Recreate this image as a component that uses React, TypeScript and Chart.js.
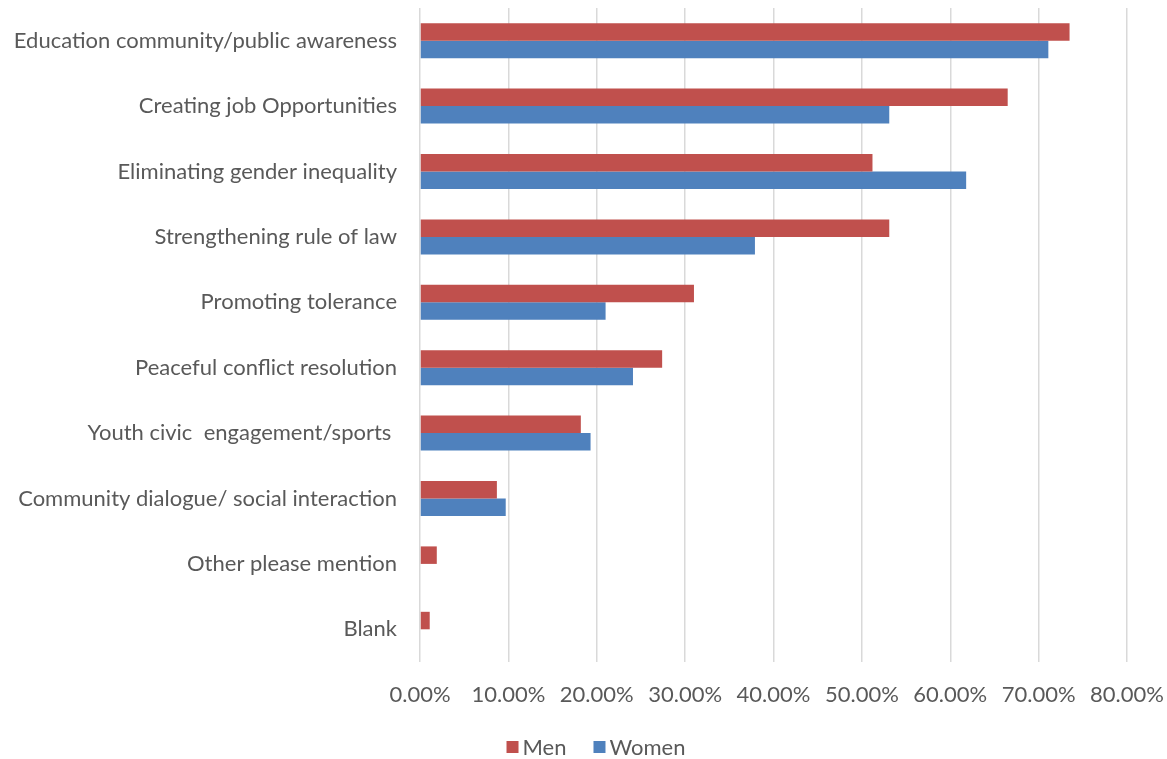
import React, { useEffect, useRef } from "react";
import { Chart, registerables } from "chart.js";

Chart.register(...registerables);

const categories = [
  "Education community/public awareness",
  "Creating job Opportunities",
  "Eliminating gender inequality",
  "Strengthening rule of law",
  "Promoting tolerance",
  "Peaceful conflict resolution",
  "Youth civic  engagement/sports ",
  "Community dialogue/ social interaction",
  "Other please mention",
  "Blank",
];

const menValues = [73.5, 66.5, 51.2, 53.1, 31.0, 27.4, 18.2, 8.7, 1.9, 1.1];
const womenValues = [71.1, 53.1, 61.8, 37.9, 21.0, 24.1, 19.3, 9.7, 0, 0];

const seriesNames = ["Men", "Women"];
const seriesColors = ["#C0504D", "#4F81BD"];
const xTickMax = 80;
const xTickStep = 10;

const FONT = "Lato, 'Open Sans', sans-serif";
const TEXT = "#595959";
const FONT_SIZE = 22;

const legendPlugin = {
  id: "customLegend",
  afterDraw(chart: any) {
    const ctx = chart.ctx;
    ctx.save();
    ctx.font = `${FONT_SIZE}px ${FONT}`;
    ctx.textBaseline = "middle";
    ctx.textAlign = "left";
    const box = 12;
    const gap = 4;
    const itemGap = 27;
    const items = chart.data.datasets.map((d: any) => ({
      label: d.label,
      color: d.backgroundColor,
      w: box + gap + ctx.measureText(d.label).width,
    }));
    const total = items.reduce((a: number, it: any) => a + it.w, 0) + itemGap * (items.length - 1);
    const cx = 596;
    const cy = 747;
    let x = cx - total / 2;
    for (const it of items) {
      ctx.fillStyle = it.color;
      ctx.fillRect(x, cy - box / 2, box, box);
      ctx.fillStyle = TEXT;
      ctx.fillText(it.label, x + box + gap, cy + 1);
      x += it.w + itemGap;
    }
    ctx.restore();
  },
};

export default function App() {
  const ref = useRef<HTMLCanvasElement | null>(null);

  useEffect(() => {
    if (!ref.current) return;
    const chart = new Chart(ref.current, {
      type: "bar",
      data: {
        labels: categories,
        datasets: [
          {
            label: seriesNames[0],
            data: menValues,
            backgroundColor: seriesColors[0],
            borderWidth: 0,
            categoryPercentage: 0.535,
            barPercentage: 1,
          },
          {
            label: seriesNames[1],
            data: womenValues,
            backgroundColor: seriesColors[1],
            borderWidth: 0,
            categoryPercentage: 0.535,
            barPercentage: 1,
          },
        ],
      },
      plugins: [legendPlugin],
      options: {
        indexAxis: "y",
        animation: false,
        responsive: false,
        maintainAspectRatio: false,
        layout: { padding: { top: 8, right: 40, left: 0, bottom: 37 } },
        plugins: {
          tooltip: { enabled: false },
          legend: { display: false },
        },
        scales: {
          x: {
            min: 0,
            max: xTickMax,
            ticks: {
              stepSize: xTickStep,
              color: TEXT,
              font: { family: FONT, size: FONT_SIZE },
              padding: 20,
              callback: (v: any) => Number(v).toFixed(2) + "%",
              maxRotation: 0,
            },
            grid: { color: "#D9D9D9", lineWidth: 1.5, drawTicks: false },
            border: { display: false },
            afterFit: (s: any) => {
              s.height = 60;
              s.paddingLeft = 0;
              s.paddingRight = 0;
            },
          },
          y: {
            ticks: {
              color: TEXT,
              font: { family: FONT, size: FONT_SIZE },
              padding: 23,
            },
            grid: { display: false, drawTicks: false },
            border: { display: false },
            afterFit: (s: any) => {
              s.width = 420;
              s.paddingTop = 0;
              s.paddingBottom = 0;
            },
          },
        },
      },
    });
    return () => chart.destroy();
  }, []);

  return (
    <div style={{ position: "fixed", left: 0, top: 0, width: 1167, height: 759, background: "#fff" }}>
      <canvas ref={ref} width={1167} height={759} />
    </div>
  );
}
